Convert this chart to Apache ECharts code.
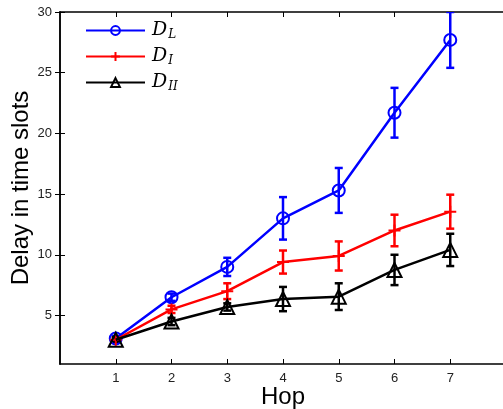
<!DOCTYPE html>
<html>
<head>
<meta charset="utf-8">
<script src="https://cdn.jsdelivr.net/npm/echarts@6/dist/echarts.min.js"></script>
<style>
html,body{margin:0;padding:0;background:#fff;}
#chart{width:503px;height:409px;}
</style>
</head>
<body>
<div id="chart"></div>
<script>
// hop count on x, mean delay and error (half length) per curve
var hops = [1, 2, 3, 4, 5, 6, 7];
var yTicks = [5, 10, 15, 20, 25, 30];
var dL = [3.1, 6.5, 9.0, 13.0, 15.3, 21.7, 27.7];
var dLErr = [0.2, 0.3, 0.75, 1.75, 1.85, 2.05, 2.3];
var dI = [3.0, 5.5, 7.0, 9.4, 9.9, 12.0, 13.55];
var dIErr = [0.2, 0.3, 0.65, 0.95, 1.2, 1.3, 1.4];
var dII = [3.0, 4.5, 5.7, 6.35, 6.55, 8.75, 10.4];
var dIIErr = [0.2, 0.3, 0.3, 1.0, 1.1, 1.25, 1.33];

var plusPath = 'path://M5,0L5,10M0,5L10,5';

function pairs(vals){
    var out = [];
    for(var i=0; i<hops.length; i++) out.push([hops[i], vals[i]]);
    return out;
}
function errData(vals, errs){
    var out = [];
    for(var i=0; i<hops.length; i++) out.push([hops[i], vals[i]-errs[i], vals[i]+errs[i]]);
    return out;
}
function errSeries(vals, errs, color){
    return {
        type: 'custom',
        z: 1,
        silent: true,
        clip: true,
        data: errData(vals, errs),
        renderItem: function(params, api){
            var lo = api.coord([api.value(0), api.value(1)]);
            var hi = api.coord([api.value(0), api.value(2)]);
            var w = 4;
            var st = {stroke: color, lineWidth: 2.5};
            return {
                type: 'group',
                children: [
                    {type:'line', shape:{x1:lo[0], y1:lo[1], x2:hi[0], y2:hi[1]}, style:st},
                    {type:'line', shape:{x1:lo[0]-w, y1:lo[1], x2:lo[0]+w, y2:lo[1]}, style:st},
                    {type:'line', shape:{x1:hi[0]-w, y1:hi[1], x2:hi[0]+w, y2:hi[1]}, style:st}
                ]
            };
        }
    };
}
function label(sub){
    return '{d|D}{s|' + sub + '}';
}

var myChart = echarts.init(document.getElementById('chart'));
var axisLine = {lineStyle: {color: '#000', width: 1.5}};
var tickLabel = {color: '#222', fontSize: 13, fontFamily: 'Liberation Sans'};

option = {
    animation: false,
    backgroundColor: '#fff',
    grid: {left: 60, top: 12, width: 446, height: 352, outerBoundsMode: 'none', containLabel: false},
    legend: {
        left: 85,
        top: 21,
        padding: 0,
        orient: 'vertical',
        itemWidth: 59,
        itemHeight: 11,
        itemGap: 6,
        data: ['DL', 'DI', 'DII'],
        formatter: function(name){
            return label(name.substring(1));
        },
        textStyle: {
            padding: [0, 0, 0, 2],
            rich: {
                d: {fontFamily: 'DejaVu Serif', fontStyle: 'italic', fontSize: 19, color: '#000', height: 22},
                s: {fontFamily: 'DejaVu Serif', fontStyle: 'italic', fontSize: 12, color: '#000', padding: [9, 0, 0, 1], height: 22}
            }
        }
    },
    xAxis: [{
        type: 'value', min: 0, max: 8,
        name: 'Hop', nameLocation: 'middle', nameGap: 21, nameMoveOverlap: false,
        nameTextStyle: {fontSize: 24, fontFamily: 'Liberation Sans', color: '#000'},
        axisLine: axisLine,
        axisTick: {inside: true, length: 5, customValues: hops, lineStyle: {color: '#000'}},
        axisLabel: Object.assign({margin: 8, customValues: hops}, tickLabel),
        splitLine: {show: false}
    }, {
        type: 'value', min: 0, max: 8, position: 'top',
        axisLine: axisLine,
        axisTick: {inside: true, length: 5, customValues: hops, lineStyle: {color: '#000'}},
        axisLabel: {show: false},
        splitLine: {show: false}
    }],
    yAxis: [{
        type: 'value', min: 1, max: 30,
        name: 'Delay in time slots', nameLocation: 'middle', nameGap: 27, nameMoveOverlap: false,
        nameTextStyle: {fontSize: 24, fontFamily: 'Liberation Sans', color: '#000'},
        axisLine: axisLine,
        axisTick: {inside: true, length: 5, customValues: yTicks, lineStyle: {color: '#000'}},
        axisLabel: Object.assign({margin: 8, customValues: yTicks}, tickLabel),
        splitLine: {show: false}
    }, {
        type: 'value', min: 1, max: 30, position: 'right',
        axisLine: axisLine,
        axisTick: {inside: true, length: 5, customValues: yTicks, lineStyle: {color: '#000'}},
        axisLabel: {show: false},
        splitLine: {show: false}
    }],
    series: [
        errSeries(dL, dLErr, '#0000ff'),
        {
            name: 'DL', type: 'line', z: 2, data: pairs(dL),
            lineStyle: {color: '#0000ff', width: 2.5},
            symbol: 'circle', symbolSize: 12, showAllSymbol: true,
            itemStyle: {color: 'rgba(0,0,0,0)', borderColor: '#0000ff', borderWidth: 2},
            color: '#0000ff'
        },
        errSeries(dI, dIErr, '#ff0000'),
        {
            name: 'DI', type: 'line', z: 3, data: pairs(dI),
            lineStyle: {color: '#ff0000', width: 2.5},
            symbol: plusPath, symbolSize: 12,
            itemStyle: {color: 'rgba(0,0,0,0)', borderColor: '#ff0000', borderWidth: 2},
            color: '#ff0000'
        },
        errSeries(dII, dIIErr, '#000000'),
        {
            name: 'DII', type: 'line', z: 4, data: pairs(dII),
            lineStyle: {color: '#000', width: 2.5},
            symbol: 'triangle', symbolSize: 14,
            itemStyle: {color: 'rgba(0,0,0,0)', borderColor: '#000', borderWidth: 2},
            color: '#000'
        }
    ]
};
myChart.setOption(option, true);
</script>
</body>
</html>
